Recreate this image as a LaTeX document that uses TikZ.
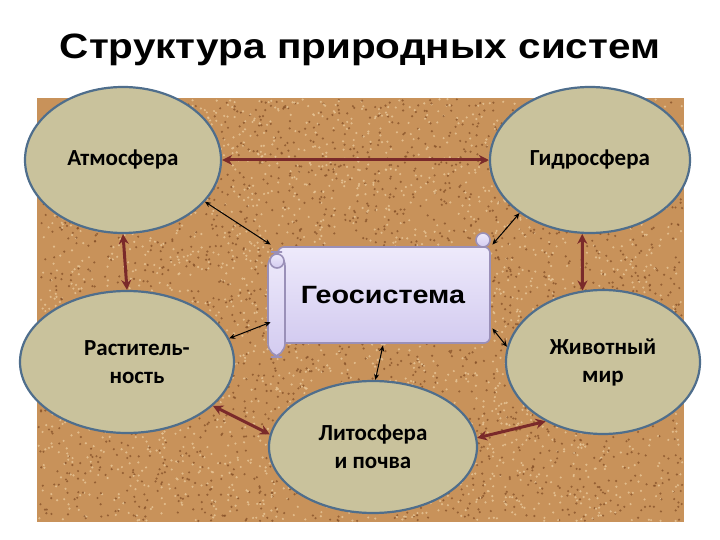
\documentclass[tikz,border=0pt]{standalone}
\usepackage{fontspec}
\setmainfont{Liberation Sans}
\newfontfamily\calib{Carlito}
\newfontfamily\blackfont[FakeStretch=1.15]{Liberation Sans Bold}
\usetikzlibrary{shapes.geometric,arrows.meta}
\definecolor{elltan}{HTML}{C9C29C}
\definecolor{ellblue}{HTML}{4F6E8C}
\definecolor{arrowred}{HTML}{7A2A2A}
\definecolor{cork}{HTML}{C8925A}
\definecolor{corkdark}{HTML}{855028}
\definecolor{corklight}{HTML}{E6C495}
\definecolor{scrolltop}{HTML}{EEEAFB}
\definecolor{scrollbot}{HTML}{D3CBF0}
\definecolor{scrollline}{HTML}{9A90B8}
\begin{document}
\begin{tikzpicture}[x=0.5pt,y=-0.5pt,
  sphere/.style={ellipse,draw=ellblue,line width=1.1pt,fill=elltan,
    font=\calib\bfseries\fontsize{11.5}{14}\selectfont,align=center,inner sep=0pt},
  link/.style={draw=arrowred,line width=1.5pt,
    {Stealth[length=5pt,width=5pt]}-{Stealth[length=5pt,width=5pt]}},
  thinlink/.style={draw=black,line width=0.5pt,
    {Stealth[length=3pt,width=2.5pt]}-{Stealth[length=3pt,width=2.5pt]}},
  scrollpart/.style={draw=scrollline,line width=0.8pt,top color=scrolltop,bottom color=scrollbot}
]
\useasboundingbox (0,0) rectangle (720,540);
\fill[white] (0,0) rectangle (720,540);
\node[font=\blackfont\fontsize{17.6}{21}\selectfont] (title) at (360,50) {Структура природных систем};
% cork background
\fill[cork] (37,98) rectangle (684,522);
\pgfmathsetseed{7}
\foreach \i in {1,...,2600}{
  \pgfmathsetmacro\xx{38+645*rnd}
  \pgfmathsetmacro\yy{99+422*rnd}
  \fill[corkdark,opacity=0.75] (\xx,\yy) circle (1.2);
  \pgfmathsetmacro\xa{38+645*rnd}
  \pgfmathsetmacro\ya{99+422*rnd}
  \fill[corklight,opacity=0.85] (\xa,\ya) circle (1.2);
}
% scroll
\draw[scrollpart,rounded corners=3pt] (278,247) rectangle (490,343);
\draw[scrollpart] (483,240) circle (7);
\draw[scrollpart,rounded corners=7pt] (268,252) rectangle (285,357);
\draw[scrollpart] (277,261) circle (7);
\node[minimum width=109pt,minimum height=50pt,inner sep=0pt,
  font=\blackfont\fontsize{12.5}{14}\selectfont] (geo) at (383,295) {Геосистема};
% spheres
\node[sphere,minimum width=98pt,minimum height=73pt] (atm) at (123,160) {Атмосфера};
\node[sphere,minimum width=100pt,minimum height=73pt] (hyd) at (590,160) {Гидросфера};
\node[sphere,minimum width=107pt,minimum height=71pt] (veg) at (127,362) {\hspace*{10pt}Раститель-\\\hspace*{10pt}ность};
\node[sphere,minimum width=97pt,minimum height=72pt] (ani) at (603,362) {Животный\\мир};
\node[sphere,minimum width=104pt,minimum height=66pt] (lit) at (373,447) {Литосфера\\и почва};
% links
\draw[link] (atm.east) -- (hyd.west);
\draw[link] (atm.south) -- (veg.north);
\draw[link] (hyd.-96) -- (ani.106);
\draw[link] (veg.-27) -- (lit.173);
\draw[link] (lit.5) -- (ani.-134);
\draw[thinlink] (atm.-27) -- ([xshift=-1.5pt]geo.north west);
\draw[thinlink] (hyd.217) -- (geo.north east);
\draw[thinlink] (veg.13) -- ([xshift=-1.5pt]geo.194);
\draw[thinlink] (ani.171) -- (geo.-17);
\draw[thinlink] (geo.south) -- (lit.88);
\end{tikzpicture}
\end{document}
